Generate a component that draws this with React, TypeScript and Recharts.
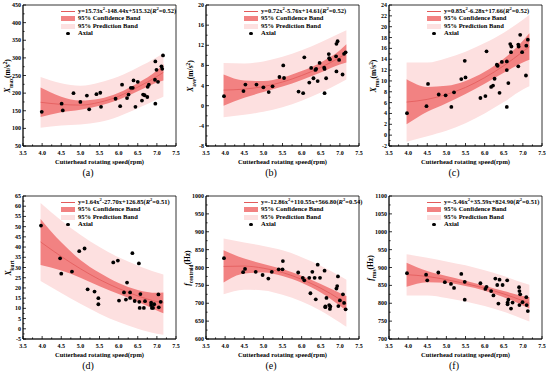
import React from "react";
import { ComposedChart, Area, Line, Scatter, XAxis, YAxis, ReferenceArea } from "recharts";

// shared x grid for the fitted curve and bands (rpm)
const bandSpeed = [3.96, 4.5, 5.0, 5.5, 6.0, 6.5, 7.0, 7.17];
const speedLabels = [3.5, 4.0, 4.5, 5.0, 5.5, 6.0, 6.5, 7.0, 7.5];

// (a) X_max
const aFit = [174, 168, 166, 174, 191, 217, 247, 259];
const aConfLo = [132, 146, 153, 164, 181, 205, 230, 236];
const aConfHi = [216, 190, 179, 184, 201, 229, 264, 282];
const aPredLo = [102, 108, 111, 118, 134, 157, 182, 190];
const aPredHi = [246, 228, 221, 230, 247, 273, 302, 314];
const aPoints = [
  [3.99, 147], [4.51, 170], [4.54, 151], [4.82, 200], [5.0, 175], [5.17, 193], [5.23, 154],
  [5.42, 197], [5.52, 201], [5.54, 161], [5.92, 184], [6.04, 163], [6.09, 224], [6.22, 186],
  [6.26, 196], [6.32, 215], [6.37, 215], [6.39, 236], [6.44, 161], [6.5, 232], [6.61, 179],
  [6.64, 196], [6.68, 194], [6.75, 189], [6.76, 218], [6.79, 224], [6.95, 238], [6.96, 290],
  [6.96, 170], [6.99, 266], [7.03, 232], [7.12, 276], [7.14, 269], [7.16, 307],
];
const aTicks = [50, 100, 150, 200, 250, 300, 350, 400, 450];

// (b) X_ave
const bFit = [3.1, 3.3, 3.8, 4.7, 6.0, 7.6, 9.6, 10.4];
const bConfLo = [0.0, 1.6, 2.7, 3.8, 5.1, 6.6, 8.2, 8.6];
const bConfHi = [6.2, 5.0, 4.9, 5.6, 6.9, 8.6, 11.0, 12.2];
const bPredLo = [-2.3, -1.8, -1.2, -0.3, 1.0, 2.6, 4.5, 5.2];
const bPredHi = [8.5, 8.4, 8.8, 9.7, 11.0, 12.6, 14.4, 15.0];
const bPoints = [
  [3.97, 1.9], [4.48, 2.9], [4.53, 4.2], [4.82, 4.2], [5.0, 3.65], [5.14, 2.7], [5.24, 3.85],
  [5.42, 5.7], [5.52, 8.0], [5.54, 5.5], [5.92, 2.8], [6.04, 2.5], [6.07, 9.6], [6.2, 4.6],
  [6.25, 7.5], [6.31, 5.45], [6.36, 7.1], [6.38, 7.3], [6.42, 4.9], [6.47, 8.5], [6.59, 7.55],
  [6.6, 7.3], [6.6, 2.5], [6.64, 5.45], [6.71, 10.25], [6.72, 9.45], [6.74, 9.2], [6.9, 9.8],
  [6.91, 12.3], [6.94, 12.8], [6.91, 6.8], [6.98, 9.1], [7.07, 6.2], [7.11, 10.3], [7.15, 10.6],
];
const bTicks = [-8, -4, 0, 4, 8, 12, 16, 20];

// (c) X_rms
const cFit = [6.1, 6.6, 7.5, 8.8, 10.6, 12.8, 15.4, 16.3];
const cConfLo = [2.0, 4.3, 5.9, 7.6, 9.5, 11.5, 13.4, 13.9];
const cConfHi = [10.3, 8.9, 9.1, 10.0, 11.7, 14.1, 17.4, 18.8];
const cPredLo = [-1.2, -0.2, 0.8, 2.2, 4.0, 6.1, 8.4, 9.0];
const cPredHi = [13.4, 13.4, 14.2, 15.4, 17.0, 18.9, 21.3, 22.2];
const cPoints = [
  [3.97, 4.05], [4.48, 5.35], [4.52, 9.45], [4.8, 7.5], [4.98, 7.35], [5.13, 5.2], [5.2, 7.9],
  [5.39, 10.35], [5.48, 13.7], [5.5, 10.65], [5.89, 6.85], [6.02, 7.2], [6.05, 15.45], [6.17, 8.9],
  [6.22, 9.15], [6.26, 10.4], [6.32, 13.0], [6.34, 12.8], [6.39, 7.8], [6.45, 13.5], [6.58, 13.6],
  [6.58, 12.0], [6.58, 5.2], [6.62, 9.6], [6.67, 16.8], [6.7, 16.35], [6.69, 15.3], [6.88, 16.7],
  [6.89, 16.35], [6.93, 18.5], [6.88, 12.7], [6.98, 15.3], [7.08, 11.0], [7.09, 16.5], [7.13, 17.6],
];
const cTicks = [-2, 0, 2, 4, 6, 8, 10, 12, 14, 16, 18, 20, 22, 24];

// (d) X_kurt
const dFit = [42.5, 35.4, 29.4, 24.1, 19.7, 16.1, 13.3, 12.7];
const dConfLo = [31.2, 28.5, 25.0, 20.8, 17.0, 13.2, 9.0, 7.6];
const dConfHi = [53.8, 42.3, 33.7, 27.4, 22.4, 19.0, 17.6, 17.8];
const dPredLo = [23.4, 17.5, 12.2, 7.4, 3.3, 0.0, -2.4, -2.9];
const dPredHi = [61.6, 53.0, 46.0, 40.0, 35.0, 31.0, 27.5, 26.6];
const dPoints = [
  [3.97, 50.5], [4.47, 34.5], [4.5, 27], [4.78, 28], [4.97, 38], [5.11, 39.3], [5.19, 19.3],
  [5.37, 18.2], [5.47, 15], [5.47, 12], [5.86, 32.5], [5.98, 33.4], [6.01, 13.8], [6.14, 17.8],
  [6.19, 14.3], [6.22, 22.6], [6.3, 17.8], [6.3, 15.1], [6.36, 37], [6.42, 13.6], [6.53, 32],
  [6.54, 13.2], [6.55, 10.2], [6.57, 17], [6.66, 10.2], [6.69, 13.5], [6.85, 12.8], [6.85, 11.6],
  [6.87, 10.2], [6.9, 10.2], [6.93, 12], [7.04, 16.8], [7.05, 10.5], [7.1, 13.2],
];
const dTicks = [-5, 0, 5, 10, 15, 20, 25, 30, 35, 40, 45, 50, 55, 60, 65];

// (e) f_centroid
const eFit = [803, 804, 798, 786, 767, 742, 711, 699];
const eConfLo = [758, 783, 786, 776, 757, 730, 693, 679];
const eConfHi = [848, 825, 810, 796, 777, 754, 729, 720];
const ePredLo = [725, 738, 736, 724, 705, 679, 646, 634];
const ePredHi = [881, 870, 860, 848, 829, 805, 776, 766];
const ePoints = [
  [3.97, 826], [4.47, 787], [4.52, 796], [4.8, 788], [4.98, 779], [5.13, 769], [5.22, 788],
  [5.4, 795], [5.5, 795], [5.51, 818], [5.91, 786], [6.03, 771], [6.07, 764], [6.2, 771],
  [6.23, 728], [6.28, 788], [6.34, 771], [6.37, 711], [6.42, 808], [6.48, 771], [6.6, 791],
  [6.62, 691], [6.62, 689], [6.65, 715], [6.72, 695], [6.74, 684], [6.75, 691], [6.91, 741],
  [6.93, 748], [6.95, 775], [6.96, 692], [7.0, 708], [7.08, 725], [7.11, 701], [7.15, 683],
];
const eTicks = [600, 650, 700, 750, 800, 850, 900, 950, 1000];

// (f) f_rms
const fFit = [880, 875, 866, 855, 842, 826, 807, 800];
const fConfLo = [846, 859, 857, 848, 835, 817, 794, 785];
const fConfHi = [913, 890, 876, 863, 849, 834, 820, 817];
const fPredLo = [822, 822, 815, 805, 792, 776, 756, 749];
const fPredHi = [937, 927, 917, 906, 892, 876, 857, 852];
const fPoints = [
  [3.97, 884], [4.47, 880], [4.5, 864], [4.79, 886], [4.96, 859], [5.12, 854], [5.2, 843],
  [5.39, 882], [5.48, 860], [5.48, 810], [5.89, 856], [6.02, 840], [6.05, 846], [6.17, 834],
  [6.23, 822], [6.28, 869], [6.33, 851], [6.36, 799], [6.39, 866], [6.47, 851], [6.59, 864],
  [6.6, 802], [6.6, 797], [6.62, 810], [6.69, 785], [6.73, 802], [6.9, 845], [6.91, 834],
  [6.93, 825], [6.91, 795], [6.99, 803], [7.09, 817], [7.1, 795], [7.13, 778],
];
const fTicks = [700, 750, 800, 850, 900, 950, 1000, 1050, 1100];

const PRED = "#fde0e0";
const CONF = "#f28282";
const FIT = "#e25a5a";
const FONT = '"Liberation Serif", "Times New Roman", serif';
const PLOT_W = 153;
const YW = 22;

// add a minor tick halfway between labelled ticks
const withMinor = (labels: number[]) =>
  labels.flatMap((v, i) => (i < labels.length - 1 ? [v, (v + labels[i + 1]) / 2] : [v]));

type PanelDef = {
  tag: string;
  left: number;
  top: number;
  bottom: number;
  yTicks: number[];
  fit: number[];
  confLo: number[];
  confHi: number[];
  predLo: number[];
  predHi: number[];
  points: number[][];
  eq: string[];
  sym: string;
  sub: string;
  unit: React.ReactNode;
  titleGap: number;
};

const ms2 = <>(m/s<sup style={{ fontSize: "70%", lineHeight: 0 }}>2</sup>)</>;

const panels: PanelDef[] = [
  { tag: "(a)", left: 23, top: 5, bottom: 146, yTicks: aTicks, fit: aFit, confLo: aConfLo, confHi: aConfHi, predLo: aPredLo, predHi: aPredHi, points: aPoints, eq: ["15.73", "-148.44", "+515.32", "0.52"], sym: "X", sub: "max", unit: ms2, titleGap: 15 },
  { tag: "(b)", left: 206, top: 5, bottom: 146, yTicks: bTicks, fit: bFit, confLo: bConfLo, confHi: bConfHi, predLo: bPredLo, predHi: bPredHi, points: bPoints, eq: ["0.72", "-5.76", "+14.61", "0.52"], sym: "X", sub: "ave", unit: ms2, titleGap: 15 },
  { tag: "(c)", left: 389, top: 5, bottom: 146, yTicks: cTicks, fit: cFit, confLo: cConfLo, confHi: cConfHi, predLo: cPredLo, predHi: cPredHi, points: cPoints, eq: ["0.85", "-6.28", "+17.66", "0.52"], sym: "X", sub: "rms", unit: ms2, titleGap: 15 },
  { tag: "(d)", left: 23, top: 196, bottom: 339, yTicks: dTicks, fit: dFit, confLo: dConfLo, confHi: dConfHi, predLo: dPredLo, predHi: dPredHi, points: dPoints, eq: ["1.64", "-27.70", "+126.85", "0.51"], sym: "X", sub: "kurt", unit: "", titleGap: 14 },
  { tag: "(e)", left: 206, top: 196, bottom: 339, yTicks: eTicks, fit: eFit, confLo: eConfLo, confHi: eConfHi, predLo: ePredLo, predHi: ePredHi, points: ePoints, eq: ["-12.86", "+110.55", "+566.80", "0.54"], sym: "f", sub: "centroid", unit: "(Hz)", titleGap: 18 },
  { tag: "(f)", left: 389, top: 196, bottom: 339, yTicks: fTicks, fit: fFit, confLo: fConfLo, confHi: fConfHi, predLo: fPredLo, predHi: fPredHi, points: fPoints, eq: ["-5.46", "+35.59", "+824.90", "0.51"], sym: "f", sub: "rms", unit: "(Hz)", titleGap: 18 },
];

const sup = (t: string) => <sup style={{ fontSize: "70%", lineHeight: 0 }}>{t}</sup>;

function Panel({ p }: { p: PanelDef }) {
  const plotH = p.bottom - p.top;
  const axisY = 5 + plotH;
  const chartW = YW + PLOT_W + 4;
  const chartH = axisY + 16;
  const yMin = p.yTicks[0];
  const yMax = p.yTicks[p.yTicks.length - 1];
  const rows = bandSpeed.map((x, i) => ({
    x,
    fit: p.fit[i],
    conf: [p.confLo[i], p.confHi[i]],
    pred: [p.predLo[i], p.predHi[i]],
  }));
  const pts = p.points.map(([x, y]) => ({ x, y }));

  const xTick = (props: any) => {
    const { x, payload } = props;
    const major = speedLabels.includes(payload.value);
    return (
      <g>
        <line x1={x} x2={x} y1={axisY} y2={axisY - (major ? 3 : 1.6)} stroke="#000" strokeWidth={0.8} />
        {major && (
          <text x={x} y={axisY + 7} textAnchor="middle" dominantBaseline="central" fontSize={6} fontWeight="bold" fontFamily={FONT} fill="#000">
            {payload.value.toFixed(1)}
          </text>
        )}
      </g>
    );
  };
  const yTick = (props: any) => {
    const { y, payload } = props;
    const major = p.yTicks.includes(payload.value);
    return (
      <g>
        <line x1={YW} x2={YW + (major ? 3 : 1.6)} y1={y} y2={y} stroke="#000" strokeWidth={0.8} />
        {major && (
          <text x={YW - 2} y={y} textAnchor="end" dominantBaseline="central" fontSize={6} fontWeight="bold" fontFamily={FONT} fill="#000">
            {payload.value}
          </text>
        )}
      </g>
    );
  };

  const L = p.left;
  const T = p.top;
  const legendRow: React.CSSProperties = { display: "flex", alignItems: "center", height: 7.5 };
  const symBox: React.CSSProperties = { width: 14, marginRight: 3, display: "flex", alignItems: "center", justifyContent: "center" };

  return (
    <>
      <div style={{ position: "absolute", left: L - YW, top: T - 5 }}>
        <ComposedChart width={chartW} height={chartH} data={rows} margin={{ top: 5, right: 4, left: 0, bottom: 0 }}>
          <XAxis
            dataKey="x"
            type="number"
            domain={[3.5, 7.5]}
            ticks={withMinor(speedLabels)}
            interval={0}
            tick={xTick}
            tickLine={false}
            axisLine={{ stroke: "#000", strokeWidth: 0.8 }}
            height={16}
            allowDataOverflow
          />
          <YAxis
            type="number"
            domain={[yMin, yMax]}
            ticks={withMinor(p.yTicks)}
            interval={0}
            tick={yTick}
            tickLine={false}
            axisLine={{ stroke: "#000", strokeWidth: 0.8 }}
            width={YW}
            allowDataOverflow
          />
          <Area type="monotone" dataKey="pred" fill={PRED} fillOpacity={1} stroke="none" isAnimationActive={false} />
          <Area type="monotone" dataKey="conf" fill={CONF} fillOpacity={1} stroke="none" isAnimationActive={false} />
          <Line type="monotone" dataKey="fit" stroke={FIT} strokeWidth={0.8} dot={false} isAnimationActive={false} />
          <Scatter
            data={pts}
            dataKey="y"
            isAnimationActive={false}
            shape={(s: any) => <circle cx={s.cx} cy={s.cy} r={1.9} fill="#000" />}
          />
          <ReferenceArea x1={3.5} x2={7.5} y1={yMin} y2={yMax} fill="none" stroke="#000" strokeWidth={0.8} />
        </ComposedChart>
      </div>

      {/* legend */}
      <div style={{ position: "absolute", left: L + 38, top: T + 2.3, fontSize: 6.5, fontWeight: "bold", lineHeight: 1, whiteSpace: "nowrap" }}>
        <div style={legendRow}>
          <span style={symBox}><span style={{ width: 14, height: 1, background: FIT }} /></span>
          <span>
            y={p.eq[0]}x{sup("2")}{p.eq[1]}x{p.eq[2]}(<i>R</i>{sup("2")}={p.eq[3]})
          </span>
        </div>
        <div style={legendRow}>
          <span style={symBox}><span style={{ width: 14, height: 5, background: CONF }} /></span>
          <span>95% Confidence Band</span>
        </div>
        <div style={legendRow}>
          <span style={symBox}><span style={{ width: 14, height: 5, background: PRED }} /></span>
          <span>95% Prediction Band</span>
        </div>
        <div style={legendRow}>
          <span style={symBox}><span style={{ width: 3.8, height: 3.8, borderRadius: "50%", background: "#000" }} /></span>
          <span>Axial</span>
        </div>
      </div>

      {/* y title */}
      <div
        style={{
          position: "absolute",
          left: L - p.titleGap,
          top: (p.top + p.bottom) / 2,
          transform: "translate(-50%, -50%) rotate(-90deg)",
          fontSize: 7.5,
          fontWeight: "bold",
          whiteSpace: "nowrap",
          lineHeight: 1,
        }}
      >
        <i>{p.sym}</i>
        <sub style={{ fontSize: "70%", lineHeight: 0 }}>{p.sub}</sub>
        {p.unit}
      </div>

      {/* x title */}
      <div style={{ position: "absolute", left: L, width: PLOT_W, top: p.bottom + 12.5, textAlign: "center", fontSize: 6.5, fontWeight: "bold", lineHeight: 1, whiteSpace: "nowrap" }}>
        Cutterhead rotating speed(rpm)
      </div>

      {/* panel tag */}
      <div style={{ position: "absolute", left: L + 65, top: p.bottom + 22, transform: "translateX(-50%)", fontSize: 10, lineHeight: 1 }}>
        {p.tag}
      </div>
    </>
  );
}

export default function App() {
  return (
    <div style={{ position: "absolute", left: 0, top: 0, width: 550, height: 372, background: "#fff", fontFamily: FONT, color: "#000", overflow: "hidden" }}>
      {panels.map((p) => (
        <Panel key={p.tag} p={p} />
      ))}
    </div>
  );
}
